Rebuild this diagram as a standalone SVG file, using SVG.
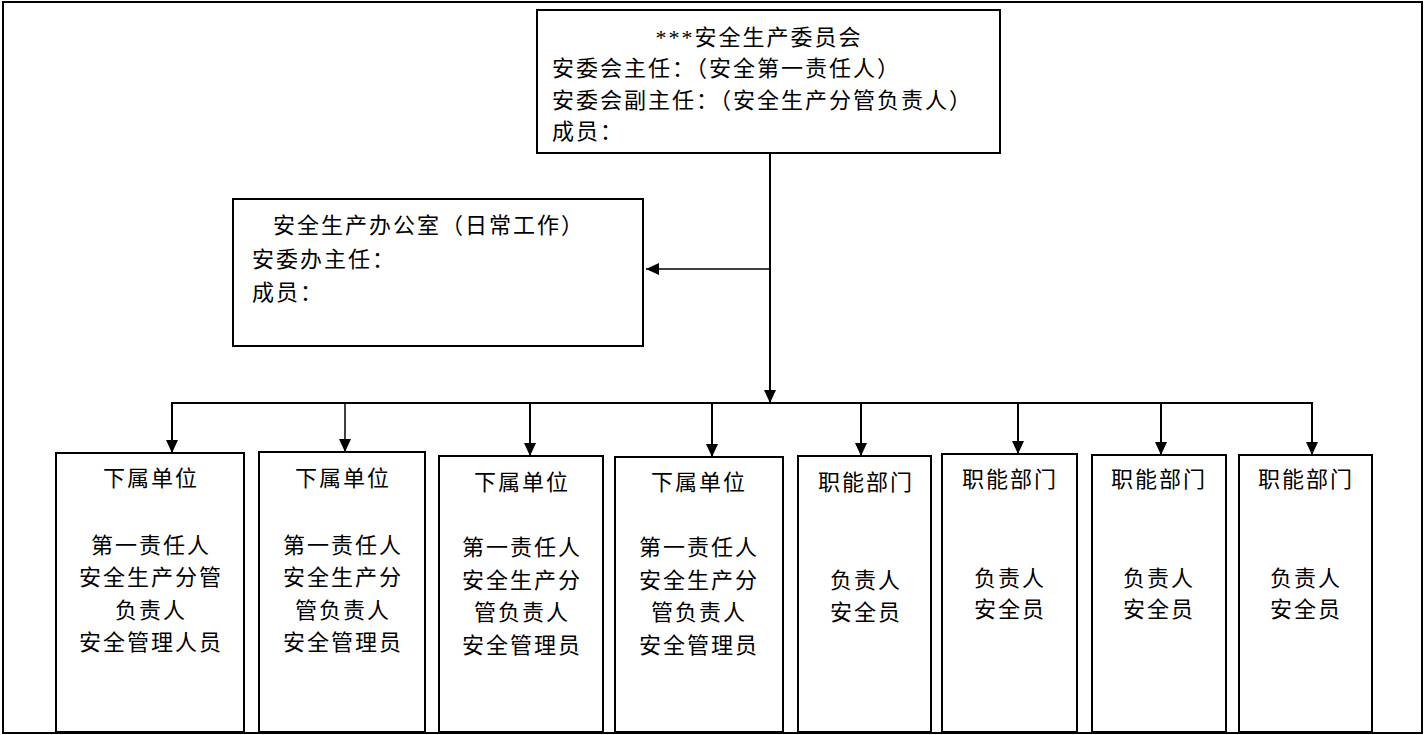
<svg xmlns="http://www.w3.org/2000/svg" width="1427" height="735" viewBox="0 0 1427 735">
<style>
  .box { fill: #fff; stroke: #000; stroke-width: 2; }
  .frame { fill: none; stroke: #000; stroke-width: 2; }
  .t { font-family: "Liberation Serif", "Noto Sans CJK SC", serif; font-size: 22px; fill: #000; letter-spacing: 2px; }
  .c { text-anchor: middle; }
  .ln { stroke: #000; stroke-width: 2; fill: none; }
  .thin { stroke: #000; stroke-width: 1.5; fill: none; }
</style>
<defs>
  <marker id="ah" markerUnits="userSpaceOnUse" markerWidth="14" markerHeight="12" refX="13" refY="6" orient="auto" viewBox="0 0 14 12">
    <path d="M0,0 L13,6 L0,12 Z" fill="#000"/>
  </marker>
</defs>
<rect width="1427" height="735" fill="#fff"/>
<rect class="frame" x="3" y="2" width="1419" height="731"/>

<g id="connectors">
  <line class="ln" x1="770" y1="153" x2="770" y2="403" marker-end="url(#ah)"/>
  <line class="thin" x1="769" y1="269" x2="646" y2="269" marker-end="url(#ah)"/>
  <line class="ln" x1="171" y1="403" x2="1313" y2="403"/>
  <line class="ln" x1="172" y1="403" x2="172" y2="453" marker-end="url(#ah)"/>
  <line class="thin" x1="345" y1="403" x2="345" y2="452" marker-end="url(#ah)"/>
  <line class="ln" x1="530" y1="403" x2="530" y2="456" marker-end="url(#ah)"/>
  <line class="ln" x1="712" y1="403" x2="712" y2="457" marker-end="url(#ah)"/>
  <line class="ln" x1="861" y1="403" x2="861" y2="456" marker-end="url(#ah)"/>
  <line class="ln" x1="1018" y1="403" x2="1018" y2="454" marker-end="url(#ah)"/>
  <line class="ln" x1="1161" y1="403" x2="1161" y2="455" marker-end="url(#ah)"/>
  <line class="ln" x1="1312" y1="403" x2="1312" y2="455" marker-end="url(#ah)"/>
</g>

<g id="committee">
  <rect class="box" x="537" y="10" width="463" height="143"/>
  <text class="t c" x="759" y="45">***安全生产委员会</text>
  <text class="t" x="552" y="76">安委会主任：（安全第一责任人）</text>
  <text class="t" x="552" y="108">安委会副主任：（安全生产分管负责人）</text>
  <text class="t" x="552" y="139">成员：</text>
</g>

<g id="office">
  <rect class="box" x="233" y="199" width="410" height="147"/>
  <text class="t" x="273" y="233">安全生产办公室（日常工作）</text>
  <text class="t" x="252" y="267">安委办主任：</text>
  <text class="t" x="252" y="300">成员：</text>
</g>

<g id="unit1">
  <rect class="box" x="56" y="453" width="188" height="279"/>
  <text class="t c" x="151" y="486">下属单位</text>
  <text class="t c" x="151" y="553">第一责任人</text>
  <text class="t c" x="151" y="585">安全生产分管</text>
  <text class="t c" x="151" y="618">负责人</text>
  <text class="t c" x="151" y="650">安全管理人员</text>
</g>

<g id="unit2">
  <rect class="box" x="259" y="452" width="166" height="280"/>
  <text class="t c" x="343" y="486">下属单位</text>
  <text class="t c" x="343" y="553">第一责任人</text>
  <text class="t c" x="343" y="585">安全生产分</text>
  <text class="t c" x="343" y="618">管负责人</text>
  <text class="t c" x="343" y="650">安全管理员</text>
</g>

<g id="unit3">
  <rect class="box" x="439" y="456" width="164" height="276"/>
  <text class="t c" x="522" y="490">下属单位</text>
  <text class="t c" x="522" y="555">第一责任人</text>
  <text class="t c" x="522" y="588">安全生产分</text>
  <text class="t c" x="522" y="620">管负责人</text>
  <text class="t c" x="522" y="653">安全管理员</text>
</g>

<g id="unit4">
  <rect class="box" x="615" y="457" width="168" height="275"/>
  <text class="t c" x="699" y="490">下属单位</text>
  <text class="t c" x="699" y="555">第一责任人</text>
  <text class="t c" x="699" y="588">安全生产分</text>
  <text class="t c" x="699" y="620">管负责人</text>
  <text class="t c" x="699" y="653">安全管理员</text>
</g>

<g id="dept1">
  <rect class="box" x="798" y="456" width="133" height="276"/>
  <text class="t c" x="866" y="490">职能部门</text>
  <text class="t c" x="866" y="588">负责人</text>
  <text class="t c" x="866" y="620">安全员</text>
</g>

<g id="dept2">
  <rect class="box" x="942" y="454" width="135" height="278"/>
  <text class="t c" x="1010" y="487">职能部门</text>
  <text class="t c" x="1010" y="586">负责人</text>
  <text class="t c" x="1010" y="617">安全员</text>
</g>

<g id="dept3">
  <rect class="box" x="1092" y="455" width="134" height="277"/>
  <text class="t c" x="1159" y="487">职能部门</text>
  <text class="t c" x="1159" y="586">负责人</text>
  <text class="t c" x="1159" y="617">安全员</text>
</g>

<g id="dept4">
  <rect class="box" x="1239" y="455" width="133" height="277"/>
  <text class="t c" x="1306" y="487">职能部门</text>
  <text class="t c" x="1306" y="586">负责人</text>
  <text class="t c" x="1306" y="617">安全员</text>
</g>
</svg>
